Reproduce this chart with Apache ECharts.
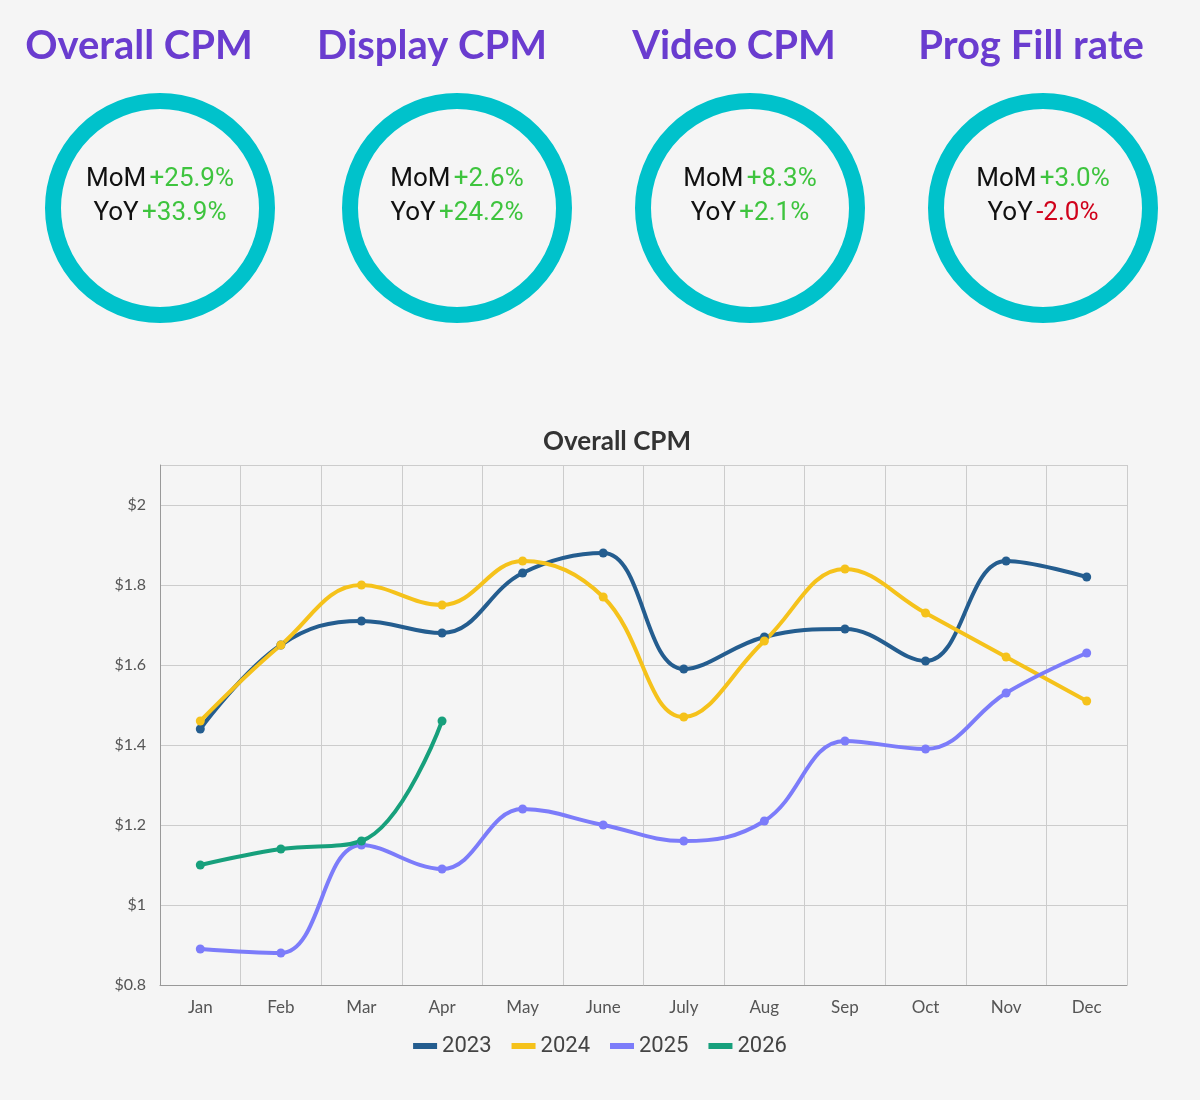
<!DOCTYPE html>
<html><head><meta charset="utf-8">
<script src="https://cdn.jsdelivr.net/npm/echarts@6/dist/echarts.min.js"></script>
<style>html,body{margin:0;background:#f5f5f5}#c{width:1200px;height:1100px}</style>
</head><body><div id="c"></div>
<script>
const months=['Jan','Feb','Mar','Apr','May','June','July','Aug','Sep','Oct','Nov','Dec'];
const s2023=[1.44,1.65,1.71,1.68,1.83,1.88,1.59,1.67,1.69,1.61,1.86,1.82];
const s2024=[1.46,1.65,1.80,1.75,1.86,1.77,1.47,1.66,1.84,1.73,1.62,1.51];
const s2025=[0.89,0.88,1.15,1.09,1.24,1.20,1.16,1.21,1.41,1.39,1.53,1.63];
const s2026=[1.10,1.14,1.16,1.46];
const kpiTitles=['Overall CPM','Display CPM','Video CPM','Prog Fill rate'];
const kpiMoM=['+25.9%','+2.6%','+8.3%','+3.0%'];
const kpiYoY=['+33.9%','+24.2%','+2.1%','-2.0%'];

const titleX=[139,432,734,1031], circX=[160,457,750,1043];
const graphic=[];
kpiTitles.forEach((t,i)=>{
  graphic.push({type:'text',x:titleX[i],y:46,style:{text:t,font:'bold 40px Lato',fill:'#6a3ccf',align:'center',verticalAlign:'middle'}});
  graphic.push({type:'circle',shape:{cx:circX[i],cy:208,r:107},style:{fill:'none',stroke:'#00c2cb',lineWidth:16}});
  const col=v=>v.startsWith('-')?'#d0021b':'#2ecc40';
  graphic.push({type:'text',x:circX[i],y:196,style:{text:'{k|MoM} {'+(kpiMoM[i].startsWith('-')?'r':'g')+'|'+kpiMoM[i]+'}\n{k|YoY} {'+(kpiYoY[i].startsWith('-')?'r':'g')+'|'+kpiYoY[i]+'}',align:'center',verticalAlign:'middle',lineHeight:34,
    rich:{k:{font:'26px Roboto',fill:'#111',lineHeight:34},g:{font:'26px Roboto',fill:'#3ec43e',lineHeight:34},r:{font:'26px Roboto',fill:'#d0021b',lineHeight:34}}}});
});
const mk=(name,data,color)=>({name,type:'line',data,smooth:0.4,symbol:'circle',symbolSize:9,lineStyle:{width:4,color},itemStyle:{color}});
const chart=echarts.init(document.getElementById('c'));
chart.setOption({
  backgroundColor:'#f5f5f5',animation:false,
  title:{text:'Overall CPM',left:612,top:424,textAlign:'center',textStyle:{fontFamily:'Lato',fontSize:26,fontWeight:'bold',color:'#333'}},
  legend:{bottom:38,left:'center',icon:'rect',itemWidth:24,itemHeight:6,itemGap:20,textStyle:{fontSize:22,color:'#444',fontFamily:'Roboto'}},
  grid:{left:160,right:73,top:465,bottom:115},
  xAxis:{type:'category',data:months,boundaryGap:true,axisLine:{lineStyle:{color:'#999'}},axisTick:{show:false},
    axisLabel:{fontSize:17,color:'#555',fontFamily:'Lato',margin:14},splitLine:{show:true,lineStyle:{color:'#ccc'}}},
  yAxis:{type:'value',min:0.8,max:2.1,interval:0.2,axisLine:{show:true,lineStyle:{color:'#999'}},
    axisLabel:{fontSize:16,color:'#555',fontFamily:'Lato',margin:14,formatter:v=>v>2.05?'':'$'+(+v.toFixed(1))},
    splitLine:{lineStyle:{color:'#ccc'}}},
  series:[mk('2023',s2023,'#245d8f'),mk('2024',s2024,'#f5c21b'),mk('2025',s2025,'#7c7cfa'),mk('2026',s2026,'#17a07c')],
  graphic
});
</script></body></html>
